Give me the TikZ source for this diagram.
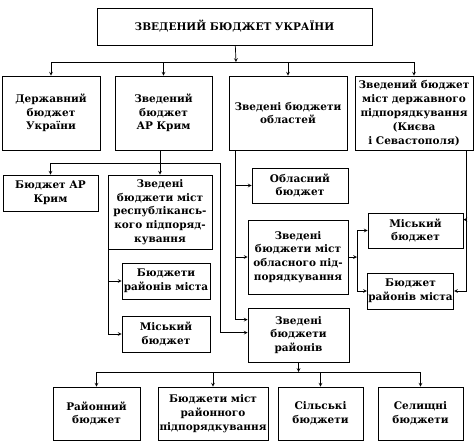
\documentclass[tikz,border=0pt]{standalone}
\usepackage{fontspec}
\setmainfont{DejaVu Serif}
\usetikzlibrary{calc, arrows}
\tikzstyle{box} = [rectangle, draw=black, text centered, align=center,
    inner sep=1pt, font=\bfseries\fontsize{10.5}{13.8}\selectfont]
\tikzstyle{arrow} = [->,>=stealth]

\begin{document}
\begin{tikzpicture}[x=1pt, y=-1pt, line width=0.7pt]
    \useasboundingbox (0,0) rectangle (474,447);

    % top node
    \node (Total) [box, minimum width=275, minimum height=37] at (234.5,26.5) {ЗВЕДЕНИЙ БЮДЖЕТ УКРАЇНИ};

    % second row
    \node (State) [box, minimum width=98, minimum height=74] at (51,113) {Державний\\бюджет\\України};
    \node (Crimea) [box, minimum width=97, minimum height=74] at (163.5,113) {Зведений\\бюджет\\АР Крим};
    \node (Regions) [box, minimum width=118, minimum height=74] at (288,113) {Зведені бюджети\\областей};
    \node (Capitals) [box, minimum width=118, minimum height=74] at (414,113) {Зведений бюджет\\міст державного\\підпорядкування\\(Києва\\і Севастополя)};

    % crimea nodes
    \node (CrimeaOwn) [box, minimum width=95, minimum height=36] at (50.5,193) {Бюджет АР\\Крим};
    \node (RepCities) [box, minimum width=104, minimum height=74] at (160,212) {Зведені\\бюджети міст\\республікансь-\\кого підпоряд-\\кування};
    \node (RepDistricts) [box, minimum width=88, minimum height=36] at (166,281) {Бюджети\\районів міста};
    \node (RepCity) [box, minimum width=88, minimum height=36] at (166,334) {Міський\\бюджет};

    % region nodes
    \node (RegionOwn) [box, minimum width=96, minimum height=35] at (300,185.5) {Обласний\\бюджет};
    \node (RegCities) [box, minimum width=100, minimum height=74] at (298,257) {Зведені\\бюджети міст\\обласного під-\\порядкування};
    \node (Districts) [box, minimum width=101, minimum height=54] at (298.5,335) {Зведені\\бюджети\\районів};

    % city nodes
    \node (CityOwn) [box, minimum width=95, minimum height=35] at (415.5,230.5) {Міський\\бюджет};
    \node (CityDistricts) [box, minimum width=85, minimum height=36] at (410.5,291) {Бюджет\\районів міста};

    % bottom row
    \node (DistrictOwn) [box, minimum width=87, minimum height=53] at (96.5,413.5) {Районний\\бюджет};
    \node (DistCities) [box, minimum width=110, minimum height=53] at (213,413.5) {Бюджети міст\\районного\\підпорядкування};
    \node (Villages) [box, minimum width=85, minimum height=53] at (320.5,413.5) {Сільські\\бюджети};
    \node (Settlements) [box, minimum width=85, minimum height=53] at (420.5,413.5) {Селищні\\бюджети};

    % helper coordinates
    \coordinate (TopBus) at (236,62);
    \coordinate (CrimeaBus) at (160,163);
    \coordinate (CrimeaRail) at (220,163);
    \coordinate (RepRail) at ($(RepCities.south west)+(1,0)$);
    \coordinate (RegRail) at ($(Regions.south west)+(7,0)$);
    \coordinate (CapRail) at ($(Capitals.south east)+(-7,0)$);
    \coordinate (RegJoin) at (357,257);
    \coordinate (BottomBus) at (298.5,372);

    % arrows
    \draw [arrow] (Total) -- (TopBus);
    \draw [arrow] (TopBus) -| (State.north);
    \draw [arrow] (TopBus) -| (Crimea.north);
    \draw [arrow] (TopBus) -| (Regions.north);
    \draw [arrow] (TopBus) -| (Capitals.north);

    \draw [arrow] (Crimea.south -| CrimeaBus) -- (RepCities.north -| CrimeaBus);
    \draw [arrow] (CrimeaBus) -| (CrimeaOwn.north);
    \draw [arrow] (CrimeaBus) -- (CrimeaRail) |- ($(Districts.north west)+(0,25)$);
    \draw [arrow] (RepRail) |- (RepDistricts);
    \draw [arrow] (RepRail) |- (RepCity);

    \draw [arrow] (RegRail) |- (RegionOwn);
    \draw [arrow] (RegRail) |- (RegCities);
    \draw [arrow] (RegRail) |- ($(Districts.north west)+(0,12)$);
    \draw [arrow] (RegCities) -- (RegJoin);
    \draw [arrow] (RegJoin) |- (CityOwn);
    \draw [arrow] (RegJoin) |- (CityDistricts);

    \draw [arrow] (CapRail) |- ($(CityOwn.north east)+(0,7)$);
    \draw [arrow] (CapRail) |- (CityDistricts);

    \draw [arrow] (Districts) -- (BottomBus);
    \draw [arrow] (BottomBus) -| (DistrictOwn.north);
    \draw [arrow] (BottomBus) -| (DistCities.north);
    \draw [arrow] (BottomBus) -| (Villages.north);
    \draw [arrow] (BottomBus) -| (Settlements.north);
\end{tikzpicture}
\end{document}
